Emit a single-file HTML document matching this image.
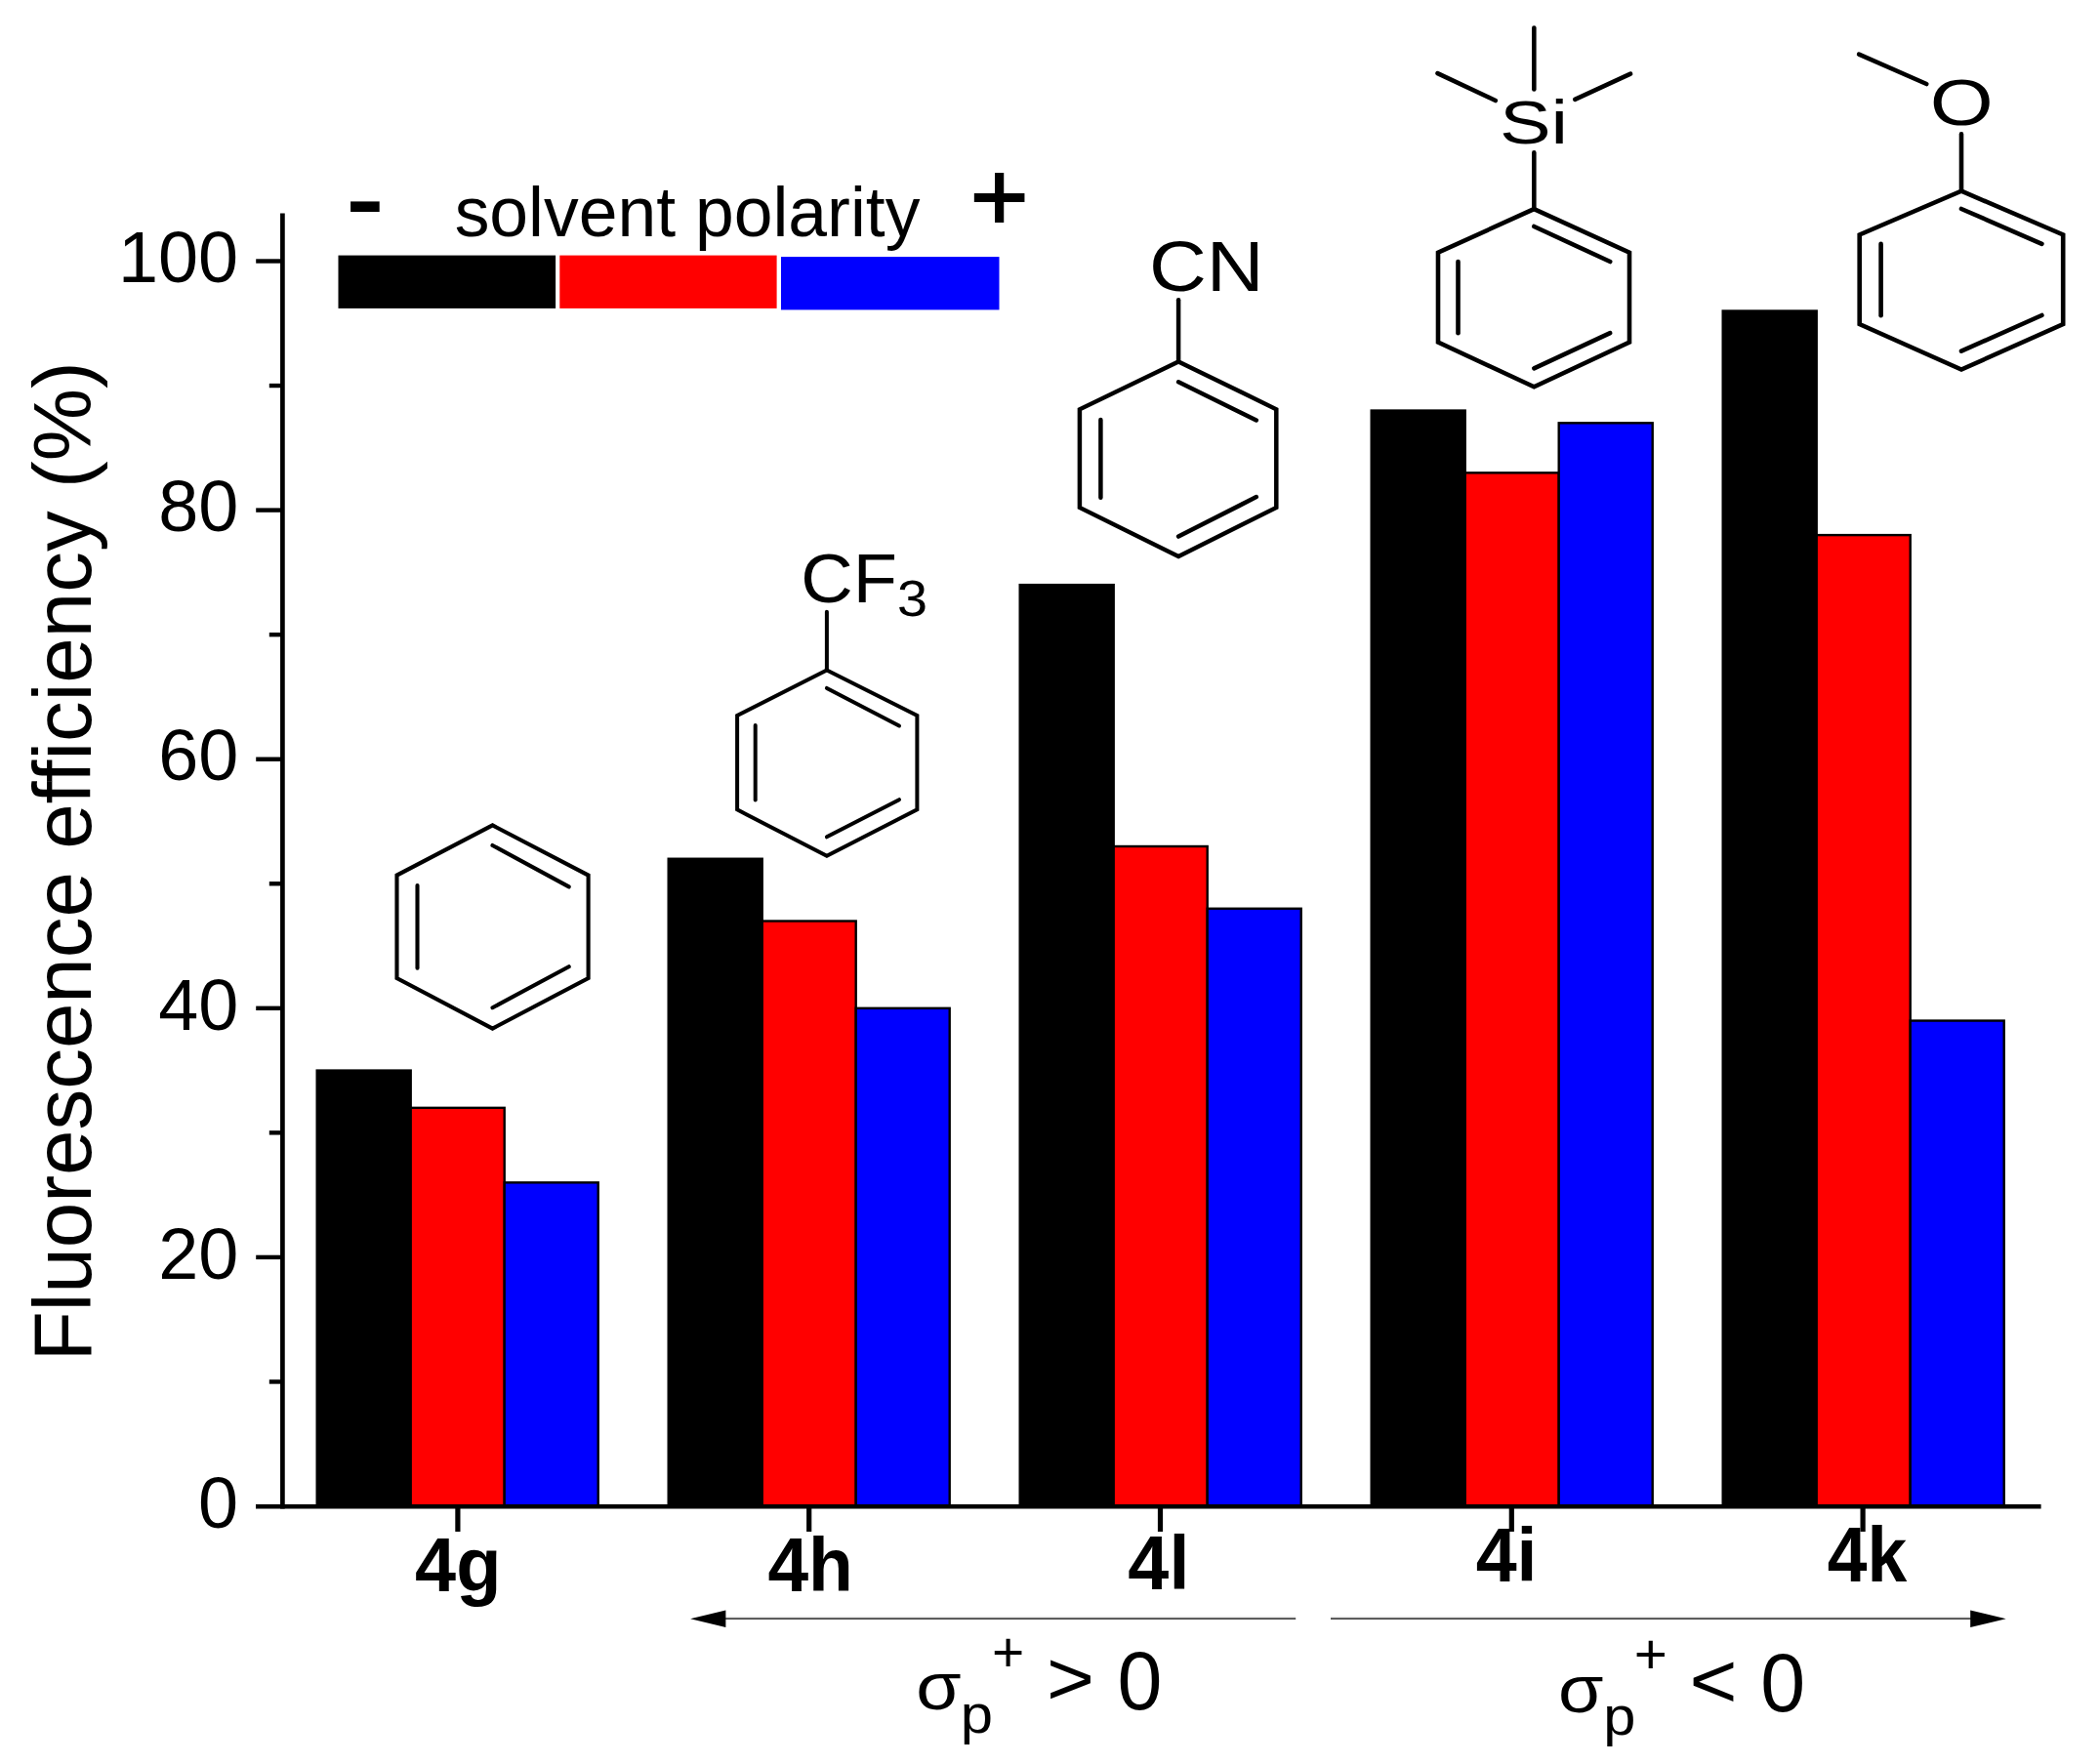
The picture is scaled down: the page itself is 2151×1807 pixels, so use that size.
<!DOCTYPE html>
<html lang="en"><head><meta charset="utf-8"><title>Fluorescence efficiency chart</title>
<style>html,body{margin:0;padding:0;background:#fff}body{width:2151px;height:1807px;overflow:hidden}</style>
</head><body>
<svg width="2151" height="1807" viewBox="0 0 2151 1807" font-family="'Liberation Sans', sans-serif" fill="#000" style="display:block;font-variant-ligatures:none">
<rect width="2151" height="1807" fill="#fff"/>
<g stroke="#000" stroke-width="2.4">
<rect x="324.70" y="1096.58" width="96" height="446.42" fill="#000000"/>
<rect x="420.70" y="1134.84" width="96" height="408.16" fill="#ff0000"/>
<rect x="516.70" y="1211.37" width="96" height="331.63" fill="#0000ff"/>
<rect x="684.70" y="879.74" width="96" height="663.26" fill="#000000"/>
<rect x="780.70" y="943.51" width="96" height="599.49" fill="#ff0000"/>
<rect x="876.70" y="1032.80" width="96" height="510.20" fill="#0000ff"/>
<rect x="1044.70" y="599.13" width="96" height="943.87" fill="#000000"/>
<rect x="1140.70" y="866.99" width="96" height="676.01" fill="#ff0000"/>
<rect x="1236.70" y="930.76" width="96" height="612.24" fill="#0000ff"/>
<rect x="1404.70" y="420.56" width="96" height="1122.44" fill="#000000"/>
<rect x="1500.70" y="484.34" width="96" height="1058.66" fill="#ff0000"/>
<rect x="1596.70" y="433.32" width="96" height="1109.68" fill="#0000ff"/>
<rect x="1764.70" y="318.52" width="96" height="1224.48" fill="#000000"/>
<rect x="1860.70" y="548.11" width="96" height="994.89" fill="#ff0000"/>
<rect x="1956.70" y="1045.56" width="96" height="497.44" fill="#0000ff"/>
</g>
<line x1="289.4" y1="218.5" x2="289.4" y2="1545.4" stroke="#000" stroke-width="4.7"/>
<line x1="262" y1="1543.3" x2="2090.6" y2="1543.3" stroke="#000" stroke-width="4.6"/>
<g stroke="#000" stroke-width="4.4">
<line x1="262.2" y1="1287.90" x2="289.4" y2="1287.90"/>
<line x1="262.2" y1="1032.80" x2="289.4" y2="1032.80"/>
<line x1="262.2" y1="777.70" x2="289.4" y2="777.70"/>
<line x1="262.2" y1="522.60" x2="289.4" y2="522.60"/>
<line x1="262.2" y1="267.50" x2="289.4" y2="267.50"/>
<line x1="275.8" y1="1415.45" x2="289.4" y2="1415.45"/>
<line x1="275.8" y1="1160.35" x2="289.4" y2="1160.35"/>
<line x1="275.8" y1="905.25" x2="289.4" y2="905.25"/>
<line x1="275.8" y1="650.15" x2="289.4" y2="650.15"/>
<line x1="275.8" y1="395.05" x2="289.4" y2="395.05"/>
</g>
<g stroke="#000" stroke-width="5.2">
<line x1="468.90" y1="1543.0" x2="468.90" y2="1569"/>
<line x1="828.70" y1="1543.0" x2="828.70" y2="1569"/>
<line x1="1188.50" y1="1543.0" x2="1188.50" y2="1569"/>
<line x1="1548.30" y1="1543.0" x2="1548.30" y2="1569"/>
<line x1="1908.10" y1="1543.0" x2="1908.10" y2="1569"/>
</g>
<text transform="translate(203.11,1564.70) scale(1.0000,1)" font-size="73.8" >0</text>
<text transform="translate(162.15,1309.60) scale(1.0000,1)" font-size="73.8" >20</text>
<text transform="translate(162.15,1054.50) scale(1.0000,1)" font-size="73.8" >40</text>
<text transform="translate(162.15,799.40) scale(1.0000,1)" font-size="73.8" >60</text>
<text transform="translate(162.15,544.30) scale(1.0000,1)" font-size="73.8" >80</text>
<text transform="translate(121.01,289.20) scale(1.0000,1)" font-size="73.8" >100</text>
<text transform="translate(93.0,1394.29) rotate(-90)" font-size="83.5">Fluorescence efficiency (%)</text>
<rect x="346.5" y="261.6" width="222.6" height="54.3" fill="#000"/>
<rect x="573.3" y="261.6" width="222.3" height="54.3" fill="#f00"/>
<rect x="800" y="263.1" width="223.5" height="54.3" fill="#00f"/>
<text transform="translate(465.63,241.60) scale(0.9929,1)" font-size="72" >solvent polarity</text>
<text transform="translate(354.53,234.97) scale(1.1683,0.8833)" font-size="100" font-weight="bold" >-</text>
<text transform="translate(993.78,236.47) scale(1.0247,1.0020)" font-size="100" stroke="#000" stroke-width="1.8">+</text>
<g fill="none" stroke="#000" stroke-width="4.1" stroke-linejoin="miter" stroke-linecap="round">
<polygon points="504.5,845.4 602.6,896.6 602.6,1002.0 504.5,1053.6 406.5,1002.0 406.5,896.6" stroke-linecap="butt"/>
<line x1="427.5" y1="907.0" x2="427.5" y2="991.7"/>
<line x1="504.5" y1="866.0" x2="582.7" y2="908.4"/>
<line x1="582.7" y1="990.2" x2="504.5" y2="1032.2"/>
</g>
<g fill="none" stroke="#000" stroke-width="4.0" stroke-linejoin="miter" stroke-linecap="round">
<polygon points="846.9,686.5 939.4,732.9 939.4,829.4 846.9,876.7 755.1,829.4 755.1,732.9" stroke-linecap="butt"/>
<line x1="773.7" y1="743.0" x2="773.7" y2="819.6"/>
<line x1="846.9" y1="704.9" x2="921.0" y2="743.5"/>
<line x1="921.0" y1="819.2" x2="846.9" y2="857.3"/>
<line x1="846.9" y1="686.5" x2="846.9" y2="626.7"/>
</g>
<text transform="translate(820.30,617.30) scale(1.0503,1)" font-size="70.5" >CF</text>
<text transform="translate(918.91,631.49) scale(0.5579,0.5088)" font-size="100" >3</text>
<g fill="none" stroke="#000" stroke-width="4.5" stroke-linejoin="miter" stroke-linecap="round">
<polygon points="1207.1,370.4 1307.3,419.3 1307.3,519.9 1207.1,570.0 1105.9,519.9 1105.9,419.3" stroke-linecap="butt"/>
<line x1="1127.4" y1="430.0" x2="1127.4" y2="509.7"/>
<line x1="1207.1" y1="391.3" x2="1286.8" y2="430.5"/>
<line x1="1286.8" y1="509.1" x2="1207.1" y2="549.6"/>
<line x1="1207.1" y1="370.4" x2="1207.1" y2="307.2"/>
</g>
<text transform="translate(1176.92,297.78) scale(0.8152,0.7194)" font-size="100" >CN</text>
<g fill="none" stroke="#000" stroke-width="4.6" stroke-linejoin="miter" stroke-linecap="round">
<polygon points="1571.3,214.1 1669.0,258.7 1669.0,350.5 1571.3,396.3 1473.0,350.5 1473.0,258.7" stroke-linecap="butt"/>
<line x1="1493.5" y1="268.0" x2="1493.5" y2="341.2"/>
<line x1="1571.3" y1="232.0" x2="1649.2" y2="268.0"/>
<line x1="1649.2" y1="341.2" x2="1571.3" y2="377.3"/>
<line x1="1571.3" y1="214.1" x2="1571.3" y2="156.4"/>
<line x1="1571.3" y1="28.6" x2="1571.3" y2="91.4"/>
<line x1="1472.5" y1="75.1" x2="1531.8" y2="103.0"/>
<line x1="1613.2" y1="101.8" x2="1670.1" y2="75.6"/>
</g>
<text transform="translate(1535.95,146.98) scale(0.7897,0.6231)" font-size="100" >Si</text>
<g fill="none" stroke="#000" stroke-width="4.6" stroke-linejoin="miter" stroke-linecap="round">
<polygon points="2009.0,195.7 2113.2,240.4 2113.2,332.0 2009.0,378.6 1904.7,332.0 1904.7,240.4" stroke-linecap="butt"/>
<line x1="1926.6" y1="249.8" x2="1926.6" y2="323.2"/>
<line x1="2009.0" y1="214.0" x2="2091.4" y2="249.8"/>
<line x1="2091.4" y1="323.0" x2="2009.0" y2="359.7"/>
<line x1="2009.0" y1="195.7" x2="2009.0" y2="137.4"/>
<line x1="1904.1" y1="55.6" x2="1973.3" y2="86.0"/>
</g>
<text transform="translate(1976.73,127.93) scale(0.8352,0.6671)" font-size="100" >O</text>
<text transform="translate(425.06,1630.40) scale(0.7567,0.7840)" font-size="100" font-weight="bold" >4g</text>
<text transform="translate(786.38,1629.50) scale(0.7495,0.7796)" font-size="100" font-weight="bold" >4h</text>
<text transform="translate(1155.37,1627.60) scale(0.7559,0.7840)" font-size="100" font-weight="bold" >4l</text>
<text transform="translate(1511.67,1619.50) scale(0.7545,0.7840)" font-size="100" font-weight="bold" >4i</text>
<text transform="translate(1871.70,1619.80) scale(0.7326,0.7884)" font-size="100" font-weight="bold" >4k</text>
<g stroke="#efefef" stroke-width="1.8">
<line x1="743" y1="1656.3" x2="1327.2" y2="1656.3"/>
<line x1="1363" y1="1656.3" x2="2019" y2="1656.3"/>
</g>
<g stroke="#444" stroke-width="1.7">
<line x1="740" y1="1658.2" x2="1327.2" y2="1658.2"/>
<line x1="1363" y1="1658.2" x2="2020" y2="1658.2"/>
</g>
<polygon points="707.1,1658.3 743.4,1649.4 743.4,1667.1" fill="#000"/>
<polygon points="2054.7,1658.3 2018.2,1649.4 2018.2,1667.1" fill="#000"/>
<text transform="translate(938.20,1750.82) scale(0.7518,0.6809)" font-size="100" >σ</text>
<text transform="translate(983.81,1775.17) scale(0.5978,0.5557)" font-size="100" >p</text>
<text transform="translate(1015.95,1712.00) scale(0.5691,0.5714)" font-size="100" >+</text>
<text transform="translate(1071.90,1746.21) scale(0.8392,0.7744)" font-size="100" >&gt;</text>
<text transform="translate(1144.60,1750.64) scale(0.8251,0.8594)" font-size="100" >0</text>
<text transform="translate(1596.10,1753.62) scale(0.7536,0.6809)" font-size="100" >σ</text>
<text transform="translate(1642.13,1777.44) scale(0.5956,0.5477)" font-size="100" >p</text>
<text transform="translate(1673.78,1714.35) scale(0.5835,0.5653)" font-size="100" >+</text>
<text transform="translate(1730.50,1749.13) scale(0.8392,0.7901)" font-size="100" >&lt;</text>
<text transform="translate(1803.20,1752.75) scale(0.8251,0.8495)" font-size="100" >0</text>
</svg>
</body></html>
